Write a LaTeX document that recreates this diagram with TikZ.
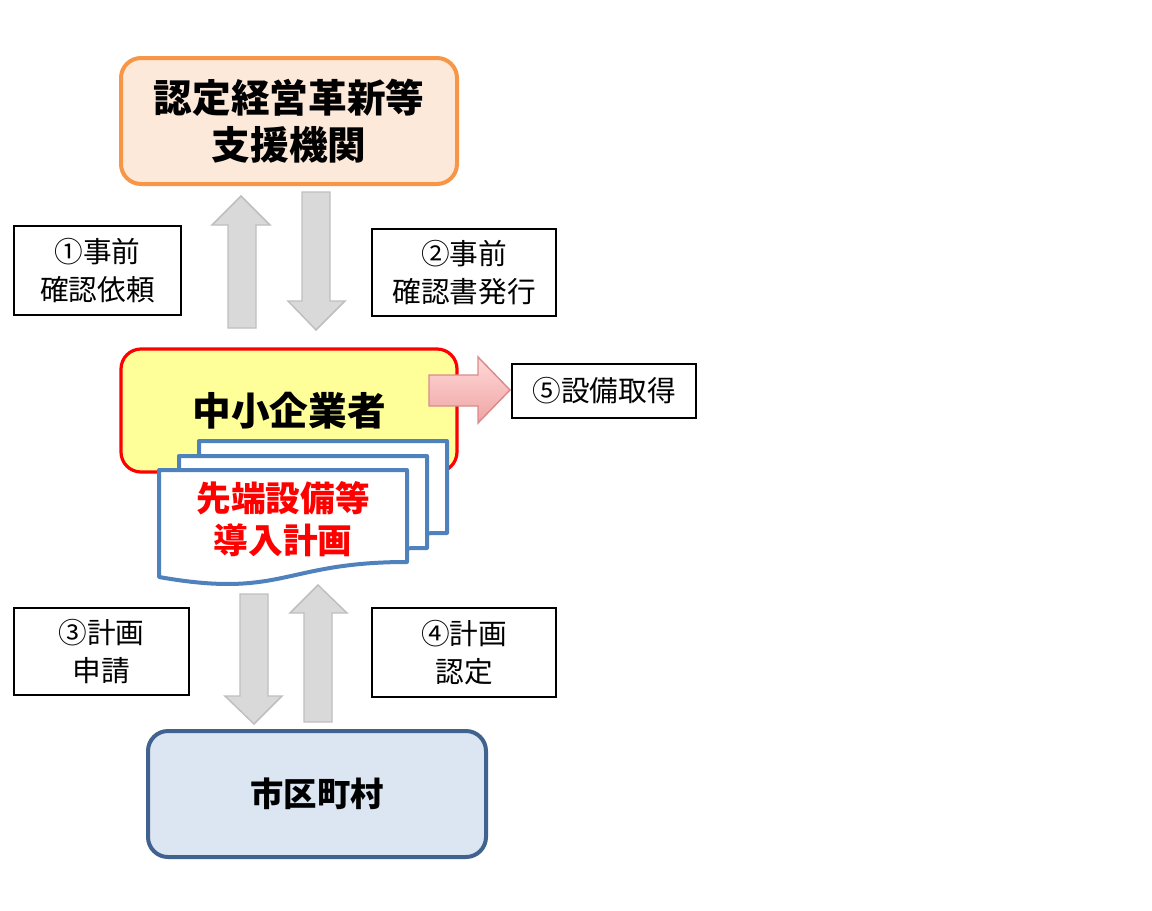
\documentclass[tikz,border=0pt]{standalone}
\usepackage{fontspec}
\newfontfamily\jp{Noto Sans CJK JP}
\usetikzlibrary{calc}
\definecolor{orgB}{HTML}{F79646}
\definecolor{orgF}{HTML}{FDE9D9}
\definecolor{yelF}{HTML}{FFFF99}
\definecolor{bluB}{HTML}{41618F}
\definecolor{bluF}{HTML}{DCE6F2}
\definecolor{docB}{HTML}{4F81BD}
\definecolor{arrF}{HTML}{D9D9D9}
\definecolor{arrB}{HTML}{BFBFBF}
\definecolor{pinkT}{HTML}{FFD9D9}
\definecolor{pinkBt}{HTML}{F0A3A3}
\definecolor{pinkB}{HTML}{D98C8A}
\tikzset{
  bigbox/.style={rounded corners=15pt, line width=3pt, inner sep=0pt, align=center, font=\jp\bfseries},
  label/.style={draw=black, line width=1.1pt, fill=white, inner sep=0pt, align=center, font=\jp\fontsize{21.5}{28.5}\selectfont},
  grayarrow/.style={fill=arrF, draw=arrB, line width=1.1pt, line join=miter},
  docshape/.style={fill=white, draw=docB, line width=3pt, line join=round},
}
\begin{document}
\begin{tikzpicture}[x=0.75pt,y=-0.75pt]
\useasboundingbox (0,0) rectangle (1152,910);

% top box
\node[bigbox, draw=orgB, fill=orgF, minimum width=336*0.75pt, minimum height=126*0.75pt,
      font=\jp\bfseries\fontsize{29}{35}\selectfont] (org) at (289,121) {認定経営革新等\\支援機関};

% labels 1, 2
\node[label, minimum width=167*0.75pt, minimum height=89*0.75pt] (l1) at (97.5,270.5) {①事前\\確認依頼};
\node[label, minimum width=184*0.75pt, minimum height=87*0.75pt] (l2) at (464,272.5) {②事前\\確認書発行};

% gray arrows top
\draw[grayarrow] (228,328) -- (228,225) -- (212,225) -- (241,196) -- (270,225) -- (256,225) -- (256,328) -- cycle;
\draw[grayarrow] (302,192) -- (330,192) -- (330,301) -- (345,301) -- (316,330) -- (288,301) -- (302,301) -- cycle;

% SME box
\node[bigbox, draw=red, fill=yelF, line width=2.4pt, minimum width=336*0.75pt, minimum height=123*0.75pt] (sme) at (289,410.5) {};
\node[font=\jp\bfseries\fontsize{29}{35}\selectfont] (smet) at (289,411) {中小企業者};

% pink arrow
\shade[top color=pinkT, bottom color=pinkBt, draw=pinkB, line width=1.1pt]
  (429,375) -- (478,375) -- (478,357) -- (510,390) -- (478,423) -- (478,406) -- (429,406) -- cycle;
\node[label, minimum width=184*0.75pt, minimum height=54*0.75pt] (l5) at (604,391) {⑤設備取得};

% documents
\foreach \dx/\dy in {40/-29, 20/-14, 0/0}{
  \draw[docshape] ($(159,470)+(\dx,\dy)$) -- ++(248,0) -- ++(0,92)
     .. controls ++(-124,0) and ++(124,22) .. ++(-248,15) -- cycle;
}
\node[font=\jp\bfseries\fontsize{26}{31.5}\selectfont, text=red, align=center] (doc) at (283,519) {先端設備等\\導入計画};

% gray arrows bottom
\draw[grayarrow] (240,594) -- (268,594) -- (268,696) -- (282,696) -- (254,724) -- (225,696) -- (240,696) -- cycle;
\draw[grayarrow] (304,722) -- (304,613) -- (290,613) -- (318,585) -- (347,613) -- (332,613) -- (332,722) -- cycle;

% labels 3, 4
\node[label, minimum width=175*0.75pt, minimum height=87*0.75pt] (l3) at (101.5,651.5) {③計画\\申請};
\node[label, minimum width=184*0.75pt, minimum height=89*0.75pt] (l4) at (464,652.5) {④計画\\認定};

% bottom box
\node[bigbox, draw=bluB, fill=bluF, minimum width=338*0.75pt, minimum height=126*0.75pt,
      font=\jp\bfseries\fontsize{25}{30}\selectfont] (city) at (317,794) {市区町村};
\end{tikzpicture}
\end{document}
